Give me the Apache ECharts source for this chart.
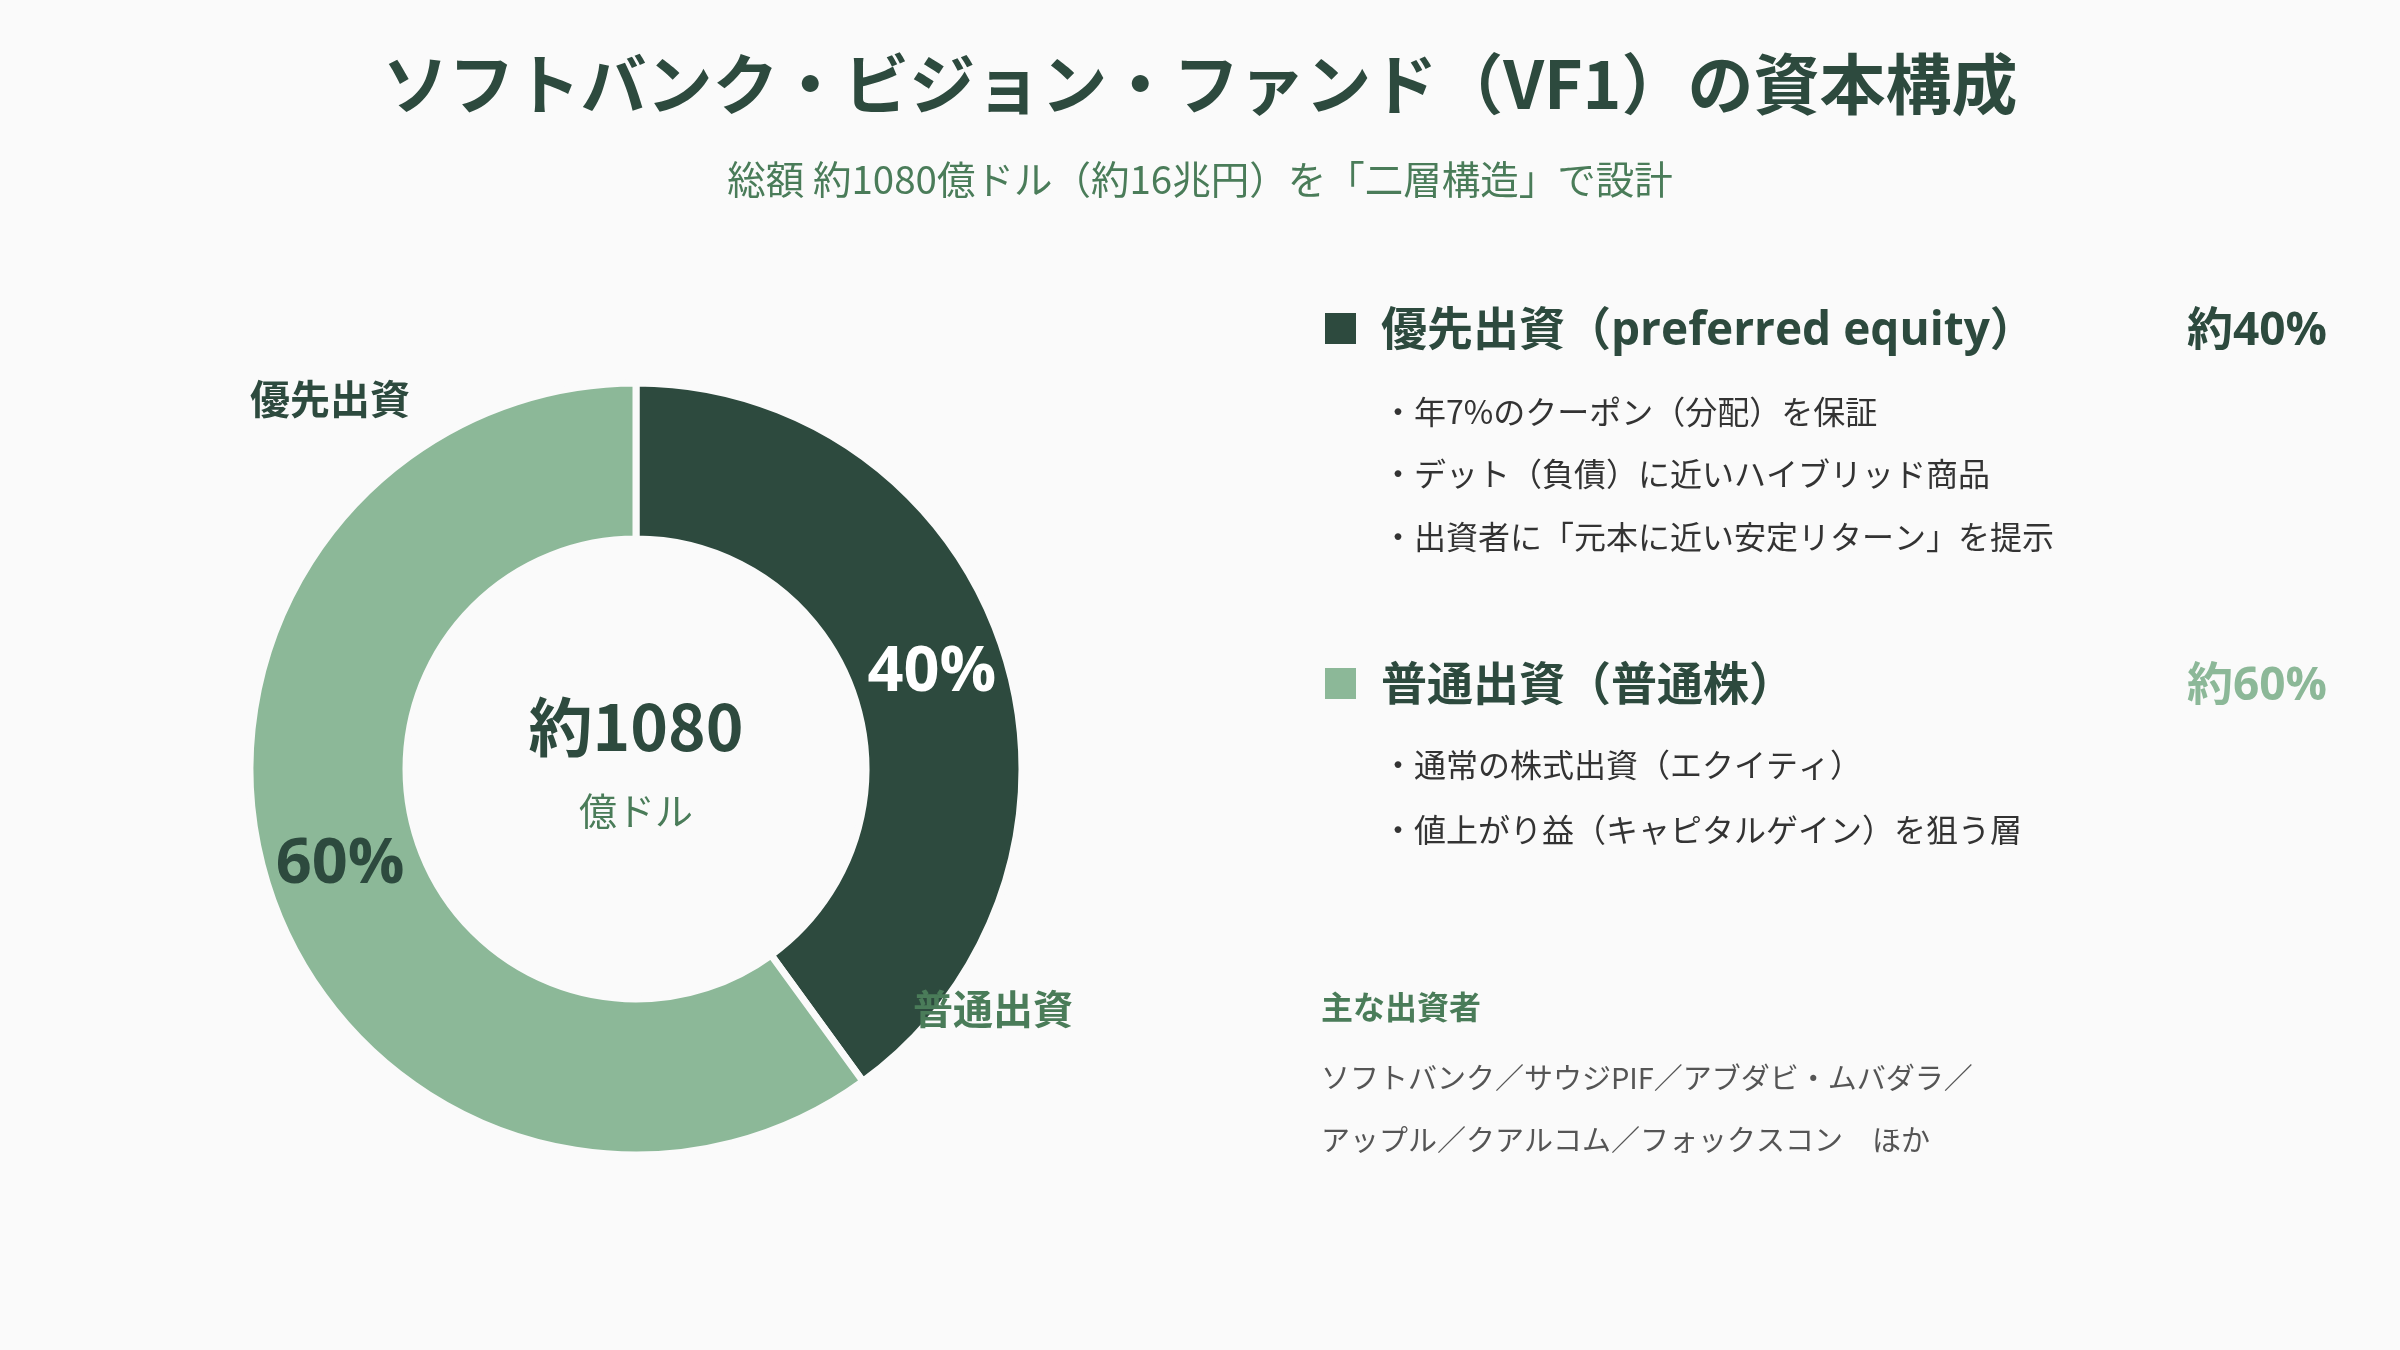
<!DOCTYPE html>
<html>
<head>
<meta charset="utf-8">
<script src="https://cdn.jsdelivr.net/npm/echarts@6/dist/echarts.min.js"></script>
<style>
html,body{margin:0;padding:0;background:#fafafa;}
#chart{width:2400px;height:1350px;}
</style>
</head>
<body>
<div id="chart"></div>
<script>
// ---- data ----
const categories = ['優先出資', '普通出資'];
const values = [40, 60];
const totalLabel = '約1080';
const totalUnit = '億ドル';
const titleText = 'ソフトバンク・ビジョン・ファンド（VF1）の資本構成';
const subtitleText = '総額 約1080億ドル（約16兆円）を「二層構造」で設計';
const headers = ['優先出資（preferred equity）', '普通出資（普通株）'];
const shareTexts = ['約40%', '約60%'];
const bullets1 = ['・年7%のクーポン（分配）を保証', '・デット（負債）に近いハイブリッド商品', '・出資者に「元本に近い安定リターン」を提示'];
const bullets2 = ['・通常の株式出資（エクイティ）', '・値上がり益（キャピタルゲイン）を狙う層'];
const investorsTitle = '主な出資者';
const investorsLines = ['ソフトバンク／サウジPIF／アブダビ・ムバダラ／', 'アップル／クアルコム／フォックスコン　ほか'];

// ---- style ----
const DARK = '#2d4a3e';
const LIGHT = '#8cb898';
const MID = '#4a7c59';
const FONT = '"Noto Sans CJK JP", "Noto Sans", sans-serif';
const FONT_LAT = '"Open Sans", "Noto Sans CJK JP", sans-serif';
const sliceColors = [DARK, LIGHT];
const labelColors = ['#ffffff', DARK];

const chart = echarts.init(document.getElementById('chart'));

function txt(x, y, text, size, color, weight, align, fam) {
  return {
    type: 'text', x: x, y: y, z: 100,
    style: {
      text: text, fill: color, font: (weight || 'normal') + ' ' + size + 'px ' + (fam || FONT),
      textAlign: align || 'left', textVerticalAlign: 'middle'
    }
  };
}

const graphics = [
  txt(1200, 84, titleText, 66, DARK, 'bold', 'center'),
  txt(1200, 179, subtitleText, 38.5, MID, 'normal', 'center'),
  txt(636, 727, totalLabel, 64, DARK, 'bold', 'center'),
  txt(636, 811, totalUnit, 38, MID, 'normal', 'center'),
  txt(250, 399, categories[0], 40, DARK, 'bold', 'left'),
  txt(913, 1009, categories[1], 40, MID, 'bold', 'left'),
  { type: 'rect', z: 100, shape: { x: 1325, y: 313, width: 31, height: 31 }, style: { fill: sliceColors[0] } },
  { type: 'rect', z: 100, shape: { x: 1325, y: 668, width: 31, height: 31 }, style: { fill: sliceColors[1] } },
  txt(1381, 332, headers[0], 46, DARK, 'bold', 'left', FONT_LAT),
  txt(2327, 332, shareTexts[0], 46, sliceColors[0], 'bold', 'right', FONT_LAT),
  txt(1381, 687, headers[1], 46, DARK, 'bold', 'left', FONT_LAT),
  txt(2327, 687, shareTexts[1], 46, sliceColors[1], 'bold', 'right', FONT_LAT),
  txt(1321, 1007, investorsTitle, 32, MID, 'bold', 'left')
];
const b1y = [412, 474, 537];
bullets1.forEach((b, i) => graphics.push(txt(1382, b1y[i], b, 32, '#333333', 'normal', 'left')));
const b2y = [765, 830];
bullets2.forEach((b, i) => graphics.push(txt(1382, b2y[i], b, 32, '#333333', 'normal', 'left')));
const iy = [1078, 1140];
investorsLines.forEach((b, i) => graphics.push(txt(1321, iy[i], b, 29, '#555555', 'normal', 'left')));

chart.setOption({
  backgroundColor: '#fafafa',
  animation: false,
  series: [{
    type: 'pie',
    center: [636, 769],
    radius: [230, 386],
    startAngle: 90,
    clockwise: true,
    avoidLabelOverlap: false,
    label: {
      show: true, position: 'inside', formatter: '{d}%',
      fontSize: 63, fontWeight: 'bold', fontFamily: FONT_LAT
    },
    labelLine: { show: false },
    itemStyle: { borderColor: '#fafafa', borderWidth: 7 },
    emphasis: { disabled: true },
    data: categories.map((c, i) => ({
      name: c, value: values[i],
      itemStyle: { color: sliceColors[i] },
      label: { color: labelColors[i] }
    }))
  }],
  graphic: graphics
});
</script>
</body>
</html>
